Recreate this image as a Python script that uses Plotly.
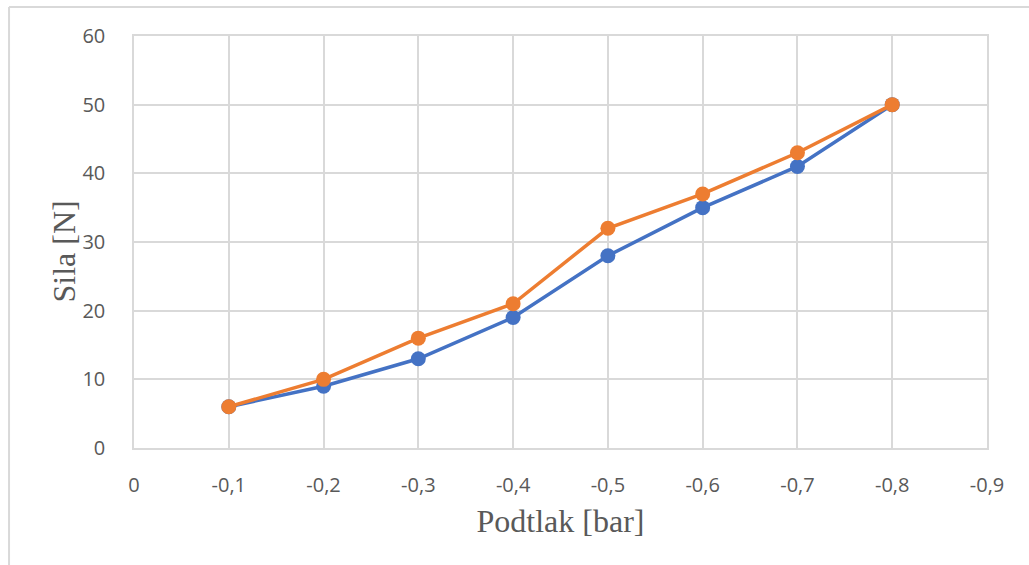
import plotly.graph_objects as go

x_vals = [-0.1, -0.2, -0.3, -0.4, -0.5, -0.6, -0.7, -0.8]
series_blue = [6, 9, 13, 19, 28, 35, 41, 50]
series_orange = [6, 10, 16, 21, 32, 37, 43, 50]
x_tickvals = [0, -0.1, -0.2, -0.3, -0.4, -0.5, -0.6, -0.7, -0.8, -0.9]
x_ticktext = ["0", "-0,1", "-0,2", "-0,3", "-0,4", "-0,5", "-0,6", "-0,7", "-0,8", "-0,9"]
y_tickvals = [0, 10, 20, 30, 40, 50, 60]

fig = go.Figure()
fig.add_trace(go.Scatter(x=x_vals, y=series_blue, mode="lines+markers",
                         line=dict(color="#4472C4", width=3.5),
                         marker=dict(color="#4472C4", size=15), showlegend=False))
fig.add_trace(go.Scatter(x=x_vals, y=series_orange, mode="lines+markers",
                         line=dict(color="#ED7D31", width=3.5),
                         marker=dict(color="#ED7D31", size=15), showlegend=False))

grid = "#d9d9d9"
tickfont = dict(family="Open Sans, Liberation Sans, sans-serif", size=20, color="#595959")
titlefont = dict(family="Liberation Serif, Times New Roman, serif", size=32, color="#595959")

fig.update_xaxes(range=[0, -0.9], tickvals=x_tickvals, ticktext=x_ticktext,
                 showgrid=True, gridcolor=grid, gridwidth=1.5,
                 showline=True, linecolor=grid, linewidth=1.5, mirror=True,
                 zeroline=False, tickfont=tickfont, ticks="", ticklabelstandoff=18,
                 title=dict(text="Podtlak [bar]", font=titlefont, standoff=13))
fig.update_yaxes(range=[0, 60], tickvals=y_tickvals,
                 showgrid=True, gridcolor=grid, gridwidth=1.5,
                 showline=True, linecolor=grid, linewidth=1.5, mirror=True,
                 zeroline=False, tickfont=tickfont, ticks="", ticklabelstandoff=23)

fig.add_annotation(text="Sila [N]", xref="paper", yref="paper",
                   x=-0.0815, y=0.478, xanchor="center", yanchor="middle",
                   textangle=-90, showarrow=False, font=titlefont)

fig.add_shape(type="line", xref="paper", yref="paper",
              x0=-0.1465, x1=1.2, y0=1.0704, y1=1.0704,
              line=dict(color=grid, width=2))
fig.add_shape(type="line", xref="paper", yref="paper",
              x0=-0.1465, x1=-0.1465, y0=1.0704, y1=-0.4,
              line=dict(color=grid, width=2))

fig.update_layout(width=1029, height=565, plot_bgcolor="white", paper_bgcolor="white",
                  margin=dict(l=134, r=42, t=36, b=117))

fig.write_html("out.html", config={"displayModeBar": False},
               post_script="document.body.style.margin='0';")
